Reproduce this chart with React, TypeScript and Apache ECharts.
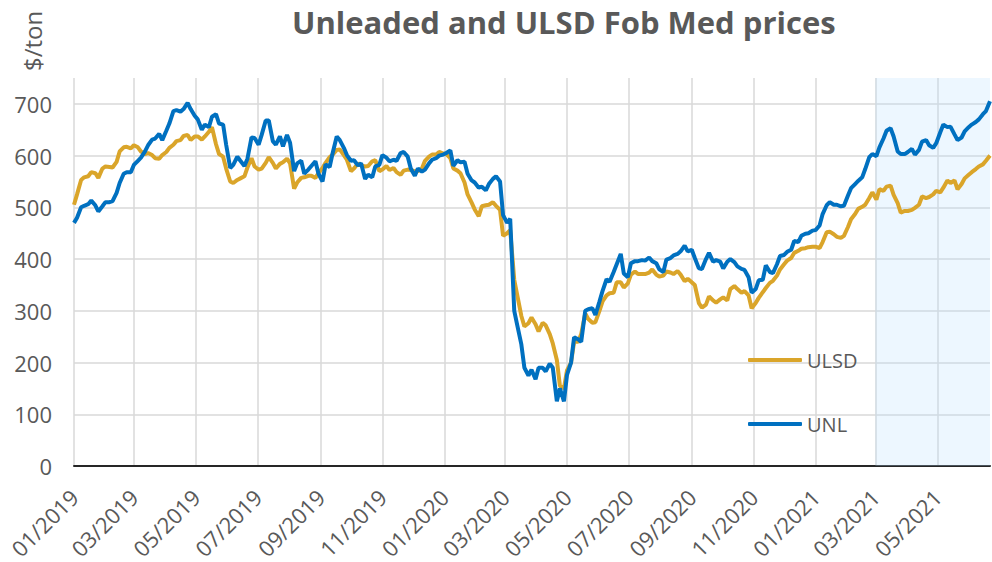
import React, { useEffect, useRef } from "react";
import * as echarts from "echarts";

const FONT = '"Open Sans", "Liberation Sans", sans-serif';
const TEXT_COLOR = "#595959";

// Axis range (daily categories)
const START_DATE = "2019-01-01";
const END_DATE = "2021-06-22";
const FORECAST_START = "2021-03-01";

// Twice-weekly samples starting 2019-01-01 (sample j falls on day floor(3.5 * j))
const ulsdValues = [
  505, 525, 553, 558, 560, 568, 566, 557, 575, 579, 578, 577, 588, 608, 616, 617, 614, 620, 616, 608,
  603, 605, 601, 595, 594, 601, 607, 615, 621, 628, 630, 638, 640, 630, 637, 637, 631, 637, 646, 655,
  622, 603, 598, 575, 550, 547, 553, 556, 560, 577, 595, 579, 573, 575, 586, 597, 586, 575, 584, 587,
  594, 585, 536, 548, 557, 558,
  561, 561, 557, 566, 576, 586, 597, 602, 611, 612, 601, 592, 570, 575, 585, 581, 579, 580, 589, 591,
  570, 573, 580, 572, 576, 568, 563, 571, 573, 572, 570, 570, 575, 590, 598, 602, 602, 607, 604, 603,
  595, 575, 571, 566, 548, 525, 509, 496, 483, 502, 504, 505, 510, 503, 495, 445, 450, 456,
  360, 330, 290, 270, 276, 287, 274, 260, 277, 272, 255, 237, 205, 155, 150, 185, 200, 240, 240, 255,
  295, 284, 277, 278, 300, 318, 330, 334, 335, 355, 355, 345, 353, 370, 376, 371, 371, 371, 374, 380,
  370, 366, 368, 376, 374, 371, 377, 370, 357, 362, 355, 350, 315, 306, 312, 328, 320, 316, 322, 326,
  320, 342, 348, 342, 335, 338,
  330, 305, 315, 325, 336, 344, 354, 358, 368, 380, 390, 397, 402, 412, 416, 420, 421, 423, 424, 424,
  421, 433, 452, 453, 448, 443, 441, 445, 462, 477, 487, 497, 501, 505, 518, 529, 515, 535, 532, 540,
  542, 524, 508, 490, 493, 493, 495, 499, 505, 521, 518, 520, 525, 532, 529, 538, 552, 547, 552, 535,
  545, 556, 563, 568, 574, 579, 583, 590, 600,
];

const unlValues = [
  470, 480, 500, 503, 506, 513, 504, 492, 502, 510, 510, 512, 528, 547, 565, 568, 568, 582, 590, 596,
  608, 620, 631, 633, 642, 630, 648, 662, 686, 688, 685, 690, 702, 690, 677, 670, 650, 660, 655, 675,
  680, 662, 660, 621, 576, 582, 598, 590, 580, 594, 635, 634, 621, 640, 668, 668, 628, 621, 637, 618,
  640, 625, 570, 585, 590, 565,
  573, 580, 589, 565, 550, 583, 578, 605, 637, 630, 615, 601, 590, 591, 581, 585, 555, 563, 558, 579,
  582, 601, 596, 589, 592, 590, 605, 607, 598, 575, 561, 575, 569, 573, 585, 592, 595, 600, 602, 605,
  610, 580, 591, 587, 588, 565, 552, 548, 538, 540, 533, 545, 555, 560, 550, 485, 470, 478,
  300, 272, 235, 190, 175, 186, 168, 190, 190, 183, 198, 190, 125, 150, 125, 176, 200, 249, 245, 240,
  300, 303, 305, 292, 318, 338, 361, 356, 375, 390, 410, 372, 365, 392, 396, 396, 398, 397, 403, 396,
  392, 380, 375, 399, 402, 407, 410, 415, 426, 415, 418, 402, 382, 381, 400, 412, 395, 398, 395, 382,
  395, 400, 394, 386, 381, 379,
  365, 335, 342, 359, 360, 388, 375, 373, 390, 406, 408, 414, 418, 435, 433, 445, 449, 450, 455, 456,
  465, 487, 504, 510, 505, 505, 502, 503, 523, 537, 545, 551, 558, 574, 597, 603, 599, 616, 633, 648,
  653, 637, 608, 603, 603, 607, 613, 602, 611, 627, 630, 620, 615, 624, 645, 660, 655, 656, 641, 630,
  635, 647, 655, 660, 665, 670, 680, 686, 705,
];

function isoDay(offset: number): string {
  const [y, m, d] = START_DATE.split("-").map(Number);
  return new Date(Date.UTC(y, m - 1, d + offset)).toISOString().slice(0, 10);
}

function buildDays(): string[] {
  const out: string[] = [];
  for (let i = 0; ; i++) {
    const s = isoDay(i);
    out.push(s);
    if (s === END_DATE) break;
  }
  return out;
}

const days = buildDays();
const sampleDates = ulsdValues.map((_, j) => isoDay(Math.floor(j * 3.5)));

const isLabelDay = (_i: number, v: string) => {
  const m = Number(v.slice(5, 7));
  return v.slice(8, 10) === "01" && m % 2 === 1;
};

export default function App() {
  const ref = useRef<HTMLDivElement>(null);

  useEffect(() => {
    if (!ref.current) return;
    const chart = echarts.init(ref.current, undefined, { renderer: "svg" });
    chart.setOption({
      animation: false,
      backgroundColor: "#ffffff",
      title: {
        text: "Unleaded and ULSD Fob Med prices",
        left: 287,
        top: 1,
        textStyle: { fontFamily: FONT, fontSize: 31, fontWeight: "bold", color: TEXT_COLOR },
      },
      legend: {
        data: ["ULSD", "UNL"],
        orient: "vertical",
        left: 743,
        top: 345,
        itemWidth: 54,
        itemHeight: 4,
        itemGap: 44,
        icon: "roundRect",
        textStyle: { fontFamily: FONT, fontSize: 20, color: TEXT_COLOR },
      },
      graphic: [
        {
          type: "text",
          x: 20,
          y: 71,
          rotation: Math.PI / 2,
          style: {
            text: "$/ton",
            fontFamily: FONT,
            fontSize: 24,
            fill: TEXT_COLOR,
            align: "left",
            verticalAlign: "top",
          },
        },
      ],
      grid: { left: 74, right: 2, top: 78, bottom: 95 },
      xAxis: {
        type: "category",
        data: days,
        boundaryGap: false,
        axisLine: { show: true, lineStyle: { color: "#262626", width: 2 } },
        axisTick: { show: false },
        axisLabel: {
          interval: isLabelDay,
          rotate: 45,
          margin: 27,
          fontFamily: FONT,
          fontSize: 22,
          color: TEXT_COLOR,
          formatter: (v: string) => `${v.slice(5, 7)}/${v.slice(0, 4)}`,
        },
        splitLine: {
          show: true,
          interval: isLabelDay,
          lineStyle: { color: "#d9d9d9", width: 1.5 },
        },
      },
      yAxis: {
        type: "value",
        min: 0,
        max: 750,
        interval: 100,
        axisLine: { show: false },
        axisTick: { show: false },
        axisLabel: {
          showMaxLabel: false,
          margin: 22,
          fontFamily: FONT,
          fontSize: 22,
          color: TEXT_COLOR,
        },
        splitLine: {
          show: true,
          showMaxLine: false,
          lineStyle: { color: "#d9d9d9", width: 1.5 },
        },
      },
      series: [
        {
          name: "ULSD",
          type: "line",
          data: ulsdValues.map((v, j) => [sampleDates[j], v]),
          showSymbol: false,
          symbol: "none",
          lineStyle: { color: "#DAA52A", width: 4 },
          itemStyle: { color: "#DAA52A" },
          z: 2,
        },
        {
          name: "UNL",
          type: "line",
          data: unlValues.map((v, j) => [sampleDates[j], v]),
          showSymbol: false,
          symbol: "none",
          lineStyle: { color: "#0070C0", width: 4 },
          itemStyle: { color: "#0070C0" },
          z: 3,
        },
        {
          name: "forecast",
          type: "line",
          data: [],
          z: 5,
          silent: true,
          markArea: {
            silent: true,
            itemStyle: { color: "rgba(184,222,255,0.25)" },
            data: [[{ xAxis: FORECAST_START }, { xAxis: END_DATE }]],
          },
        },
      ],
    });
    return () => chart.dispose();
  }, []);

  return (
    <div
      ref={ref}
      style={{ position: "fixed", left: 0, top: 0, width: 992, height: 562 }}
    />
  );
}
